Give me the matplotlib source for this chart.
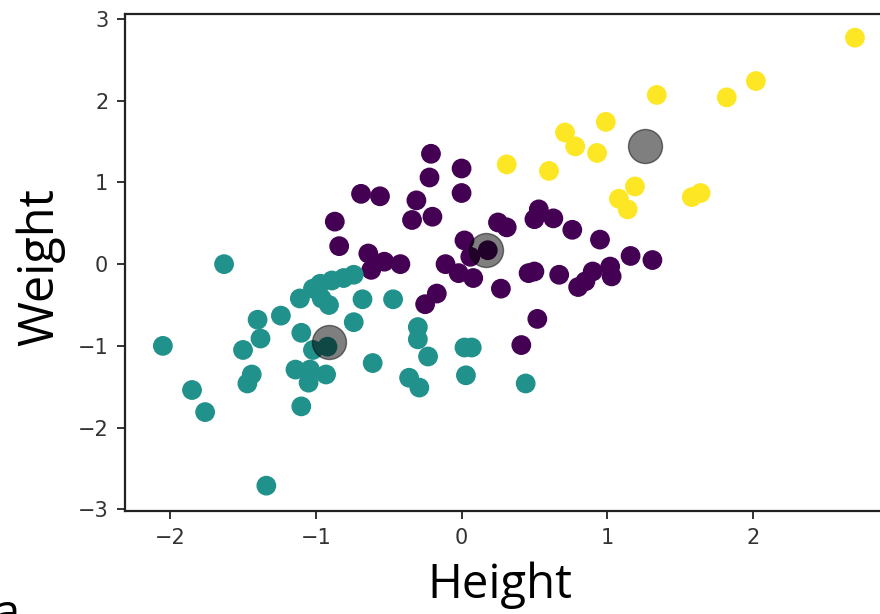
import matplotlib
matplotlib.use("Agg")
import matplotlib.pyplot as plt
import numpy as np

# Cluster 0 (purple)
c0_x = [-0.21, 0.00, -0.22, 0.00, -0.69, -0.56, -0.31, -0.87, -0.34, -0.20,
        -0.84, -0.64, 0.02, 0.25, 0.31, 0.53, 0.50, 0.63, 0.76, 0.95,
        0.06, 1.16, 1.31, -0.11, -0.02, 0.08, -0.17, 0.27, 0.46, 0.50,
        0.67, 0.80, 0.85, 0.90, 1.02, 1.03, 0.52, 0.41, -0.62, -0.53,
        -0.42, -0.25, 0.18]
c0_y = [1.35, 1.17, 1.06, 0.87, 0.86, 0.83, 0.78, 0.52, 0.54, 0.58,
        0.22, 0.13, 0.29, 0.51, 0.45, 0.67, 0.55, 0.56, 0.42, 0.30,
        0.09, 0.10, 0.05, 0.00, -0.11, -0.17, -0.36, -0.30, -0.11, -0.09,
        -0.13, -0.28, -0.21, -0.09, -0.03, -0.15, -0.67, -0.99, -0.07, 0.03,
        0.00, -0.49, 0.17]

# Cluster 1 (teal)
c1_x = [-1.63, -0.74, -0.81, -0.89, -0.97, -1.02, -1.11, -0.96, -0.91, -0.68,
        -0.47, -1.24, -1.40, -0.74, -0.30, -0.30, -1.10, -1.38, -1.50, -2.05,
        -1.02, -0.92, -0.23, 0.02, 0.07, -0.61, -1.14, -1.04, -0.93, -1.05,
        -1.44, -1.47, -0.36, -0.29, 0.03, 0.44, -1.85, -1.76, -1.10, -1.34]
c1_y = [0.00, -0.13, -0.17, -0.20, -0.24, -0.30, -0.42, -0.42, -0.50, -0.43,
        -0.43, -0.63, -0.68, -0.71, -0.77, -0.92, -0.84, -0.91, -1.05, -1.00,
        -1.05, -1.01, -1.13, -1.02, -1.02, -1.21, -1.29, -1.29, -1.35, -1.45,
        -1.35, -1.46, -1.39, -1.51, -1.36, -1.46, -1.54, -1.81, -1.74, -2.71]

# Cluster 2 (yellow)
c2_x = [2.70, 2.02, 1.82, 1.34, 0.99, 0.71, 0.78, 0.93, 0.31, 0.60,
        1.19, 1.08, 1.14, 1.58, 1.64]
c2_y = [2.77, 2.24, 2.04, 2.07, 1.74, 1.61, 1.44, 1.36, 1.22, 1.14,
        0.95, 0.80, 0.67, 0.82, 0.87]

# Cluster centres
cent_x = [0.17, -0.91, 1.26]
cent_y = [0.17, -0.95, 1.44]

xticks = [-2, -1, 0, 1, 2]
yticks = [-3, -2, -1, 0, 1, 2, 3]

x = np.array(c0_x + c1_x + c2_x)
y = np.array(c0_y + c1_y + c2_y)
labels = np.array([0] * len(c0_x) + [1] * len(c1_x) + [2] * len(c2_x))

W, H = 880, 614
fig = plt.figure(figsize=(W / 100, H / 100), dpi=100)
xlim = (-2.31, 2.95)
ylim = (-3.02, 3.06)
px_per_x = 145.7
left_px = 125
right_px = left_px + (xlim[1] - xlim[0]) * px_per_x
ax = fig.add_axes([left_px / W, 1 - 511 / H, (right_px - left_px) / W, (511 - 14) / H])

ax.scatter(x, y, c=labels, cmap="viridis", s=175, zorder=2)
ax.scatter(cent_x, cent_y, c="black", s=600, alpha=0.5, zorder=3)

ax.set_xlim(*xlim)
ax.set_ylim(*ylim)
ax.set_xticks(xticks)
ax.set_yticks(yticks)
ax.set_xticklabels([f"\u2212{abs(t)}" if t < 0 else str(t) for t in xticks])
ax.set_yticklabels([f"\u2212{abs(t)}" if t < 0 else str(t) for t in yticks])
ax.tick_params(labelsize=15, colors="#333333", length=6, width=1.4, pad=6)
for s in ax.spines.values():
    s.set_linewidth(1.6)
    s.set_color("#222222")

fig.text(500 / W, 1 - 585 / H, "Height", fontsize=34, family="Open Sans",
         ha="center", va="center", color="black")
fig.text(41 / W, 1 - 267 / H, "Weight", fontsize=35, family="Open Sans",
         ha="center", va="center", rotation=90, color="black")
fig.text(-6 / W, 1 - 628 / H, "a", fontsize=34, family="Open Sans",
         ha="left", va="baseline", color="black")

fig.savefig("out.png", dpi=100)
